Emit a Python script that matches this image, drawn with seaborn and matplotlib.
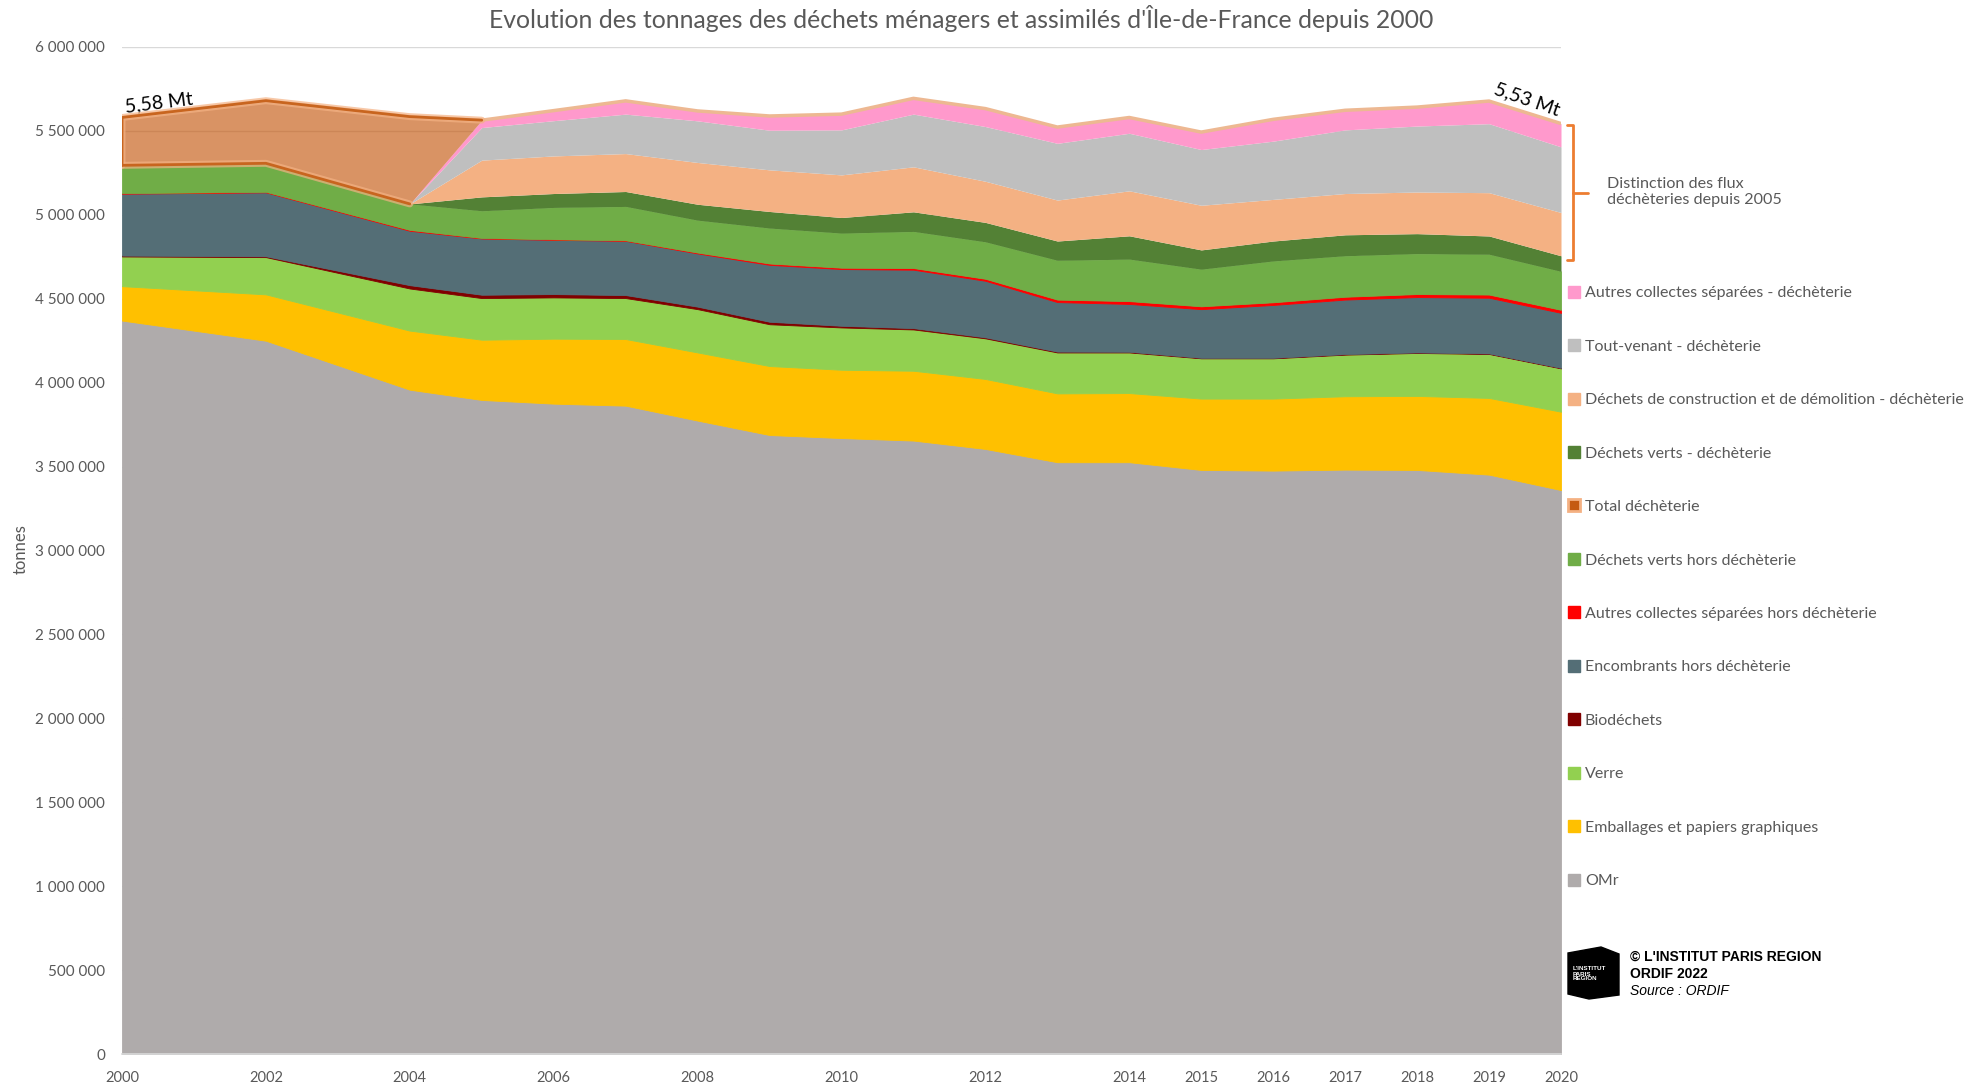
import numpy as np
import pandas as pd
import matplotlib
matplotlib.use("Agg")
import matplotlib.pyplot as plt
import seaborn as sns
from matplotlib.lines import Line2D
from matplotlib.patches import Polygon
from matplotlib.ticker import FuncFormatter

# -------------------------------
# Data (milliers de tonnes)
# -------------------------------
years = [2000, 2002, 2004, 2005, 2006, 2007, 2008, 2009, 2010, 2011, 2012,
         2013, 2014, 2015, 2016, 2017, 2018, 2019, 2020]

omr = [4370, 4250, 3958, 3897, 3875, 3863, 3774, 3688, 3670, 3655, 3605,
       3526, 3526, 3480, 3476, 3482, 3480, 3452, 3360]
emballages = [205, 276, 352, 359, 387, 397, 406, 411, 407, 416, 417,
              410, 412, 425, 429, 437, 441, 457, 467]
verre = [177, 222, 251, 248, 246, 244, 258, 249, 252, 246, 242,
         244, 242, 240, 240, 248, 256, 262, 258]
biodechets = [5, 5, 20, 20, 20, 18, 15, 15, 10, 8, 6,
              5, 4, 3, 3, 3, 3, 3, 3]
encombrants = [369, 381, 324, 335, 323, 323, 317, 339, 338, 348, 337,
               295, 285, 290, 315, 325, 330, 332, 328]
autres_hors = [3, 3, 5, 3, 3, 3, 5, 8, 8, 10, 12,
               15, 17, 17, 16, 17, 18, 19, 18]
verts_hors = [166, 170, 155, 162, 190, 202, 193, 211, 206, 218, 220,
              234, 250, 221, 246, 244, 241, 240, 229]
verts_dech = [0, 0, 0, 83, 83, 89, 95, 99, 93, 117, 116,
              115, 139, 115, 119, 125, 119, 109, 93]
dcd_dech = [0, 0, 0, 219, 224, 226, 249, 248, 254, 268, 245,
            244, 268, 266, 248, 246, 248, 258, 258]
tout_venant = [0, 0, 0, 194, 210, 235, 248, 236, 268, 314, 326,
               338, 343, 332, 347, 379, 393, 411, 391]
autres_dech = [0, 0, 0, 44, 60, 79, 59, 85, 94, 94, 107,
               97, 94, 104, 130, 117, 113, 135, 139]
total_dech = [285, 373, 520, 0, 0, 0, 0, 0, 0, 0, 0,
              0, 0, 0, 0, 0, 0, 0, 0]

# stacking order, bottom -> top
series = [
    ("OMr", omr, "#AFABAB"),
    ("Emballages et papiers graphiques", emballages, "#FFC000"),
    ("Verre", verre, "#92D050"),
    ("Biodéchets", biodechets, "#800000"),
    ("Encombrants hors déchèterie", encombrants, "#546E76"),
    ("Autres collectes séparées hors déchèterie", autres_hors, "#FF0000"),
    ("Déchets verts hors déchèterie", verts_hors, "#70AD47"),
    ("Déchets verts - déchèterie", verts_dech, "#538135"),
    ("Déchets de construction et de démolition - déchèterie", dcd_dech, "#F4B183"),
    ("Tout-venant - déchèterie", tout_venant, "#BFBFBF"),
    ("Autres collectes séparées - déchèterie", autres_dech, "#FF99CC"),
    ("Total déchèterie", total_dech, "#C55A11"),
]
legend_order = [
    "Autres collectes séparées - déchèterie",
    "Tout-venant - déchèterie",
    "Déchets de construction et de démolition - déchèterie",
    "Déchets verts - déchèterie",
    "Total déchèterie",
    "Déchets verts hors déchèterie",
    "Autres collectes séparées hors déchèterie",
    "Encombrants hors déchèterie",
    "Biodéchets",
    "Verre",
    "Emballages et papiers graphiques",
    "OMr",
]

df = pd.DataFrame({name: np.array(vals) * 1000 for name, vals, _ in series})
df["annee"] = years
colors = {name: c for name, _, c in series}
names = [s[0] for s in series]

# -------------------------------
# Plot
# -------------------------------
sns.set_style("white")
plt.rcParams["font.family"] = ["Lato", "DejaVu Sans"]
grey_txt = "#595959"

W, H = 1980, 1083
fig = plt.figure(figsize=(W / 100, H / 100), dpi=100)
ax = fig.add_axes([122 / W, 1 - 1054 / H, (1561 - 122) / W, (1054 - 47) / H])

def fx(px):
    return px / W

def fy(py):
    return 1 - py / H

polys = ax.stackplot(df["annee"], *[df[n] for n in names],
                     colors=[colors[n] for n in names], zorder=2)
no_edge = {"Déchets verts - déchèterie",
           "Déchets de construction et de démolition - déchèterie",
           "Tout-venant - déchèterie",
           "Autres collectes séparées - déchèterie", "Total déchèterie"}
for p, n in zip(polys, names):
    if n in no_edge:
        p.set_linewidth(0)
    else:
        p.set_edgecolor(colors[n])
        p.set_linewidth(0.6)
polys[-1].set_alpha(0.65)

# total outline
stack = df[names].cumsum(axis=1)
totals = stack[names[-1]]
base_dech = stack[names[-2]]
sns.lineplot(x=df["annee"], y=totals, color="#EDB892", lw=2.5, ax=ax, zorder=3)

n_early = 4
xs = list(df["annee"][:n_early])
top_x = [xs[0]] + xs
top_y = [base_dech[0]] + list(totals[:n_early])
bot_x = xs[:3]
bot_y = list(base_dech[:3])
for lw, col, a in [(5, "#F4B183", 0.7), (2, "#C8651F", 1)]:
    ax.plot(top_x, top_y, color=col, lw=lw, alpha=a, zorder=4,
            solid_joinstyle="miter")
    ax.plot(bot_x, bot_y, color=col, lw=lw, alpha=a, zorder=4)

# axes
ax.set_xlim(2000, 2020)
ax.set_ylim(0, 6_000_000)
ax.set_yticks(np.arange(0, 6_000_001, 500_000))
ax.yaxis.set_major_formatter(FuncFormatter(lambda v, _: f"{int(v):,}".replace(",", " ")))
ax.yaxis.grid(True, color="#D9D9D9", lw=1)
ax.set_axisbelow(True)
ticks = list(range(2000, 2021))
ax.set_xticks(ticks)
ax.set_xticklabels([str(t) if (t % 2 == 0 or t >= 2014) else "" for t in ticks])
for s in ["left", "top", "right"]:
    ax.spines[s].set_visible(False)
ax.spines["bottom"].set_color("#D9D9D9")
ax.spines["bottom"].set_linewidth(1.2)
ax.tick_params(axis="y", length=0, pad=12, labelsize=11, labelcolor=grey_txt)
ax.tick_params(axis="x", length=5, width=1, color="#D9D9D9", pad=7,
               labelsize=10.5, labelcolor=grey_txt, direction="out")
ax.set_xlabel("")
ax.set_ylabel("")
fig.text(fx(21), fy(549), "tonnes", rotation=90, ha="center", va="center",
         fontsize=12, color=grey_txt)

# labels on total
ax.text(2000.03, 5.59e6, "5,58 Mt", rotation=7, ha="left", va="bottom",
        fontsize=14, color="black")
ax.text(2019.53, 5.69e6, "5,53 Mt", rotation=-19, ha="center", va="center",
        fontsize=14, color="black")

fig.text(0.4853, fy(18),
         "Evolution des tonnages des déchets ménagers et assimilés d'Île-de-France depuis 2000",
         ha="center", va="center", fontsize=17.8, color=grey_txt)

# legend
handles = []
for n in legend_order:
    if n == "Total déchèterie":
        h = Line2D([], [], marker="s", ls="", markersize=8,
                   markerfacecolor="#C55A11", markeredgecolor="#F4B183",
                   markeredgewidth=2)
    else:
        h = Line2D([], [], marker="s", ls="", markersize=8,
                   markerfacecolor=colors[n], markeredgecolor=colors[n])
    handles.append(h)
fig.legend(handles, legend_order, loc="upper left",
           bbox_to_anchor=(fx(1568), fy(286)), frameon=False,
           fontsize=11.5, labelspacing=2.46, handlelength=0.7,
           handletextpad=0.35, borderpad=0, borderaxespad=0,
           labelcolor=grey_txt)

# bracket
br = "#ED7D31"
fig.add_artist(Line2D([fx(1567), fx(1573), fx(1573), fx(1567)],
                      [fy(125), fy(125), fy(260), fy(260)],
                      transform=fig.transFigure, color=br, lw=2))
fig.add_artist(Line2D([fx(1573), fx(1588)], [fy(193), fy(193)],
                      transform=fig.transFigure, color=br, lw=2))
fig.text(fx(1607), fy(192), "Distinction des flux\ndéchèteries depuis 2005",
         ha="left", va="center", fontsize=11.6, color=grey_txt, linespacing=1.1)

# logo + credits
logo = [(1568, 953), (1601, 947), (1619, 954), (1619, 995), (1589, 999), (1568, 994)]
fig.add_artist(Polygon([(fx(x), fy(y)) for x, y in logo], closed=True,
                       transform=fig.transFigure, facecolor="black", edgecolor="black"))
fig.text(fx(1573), fy(974), "L'INSTITUT\nPARIS\nREGION", ha="left", va="center",
         fontsize=4.5, color="white", fontweight="bold", linespacing=1.0,
         family=["Liberation Sans", "DejaVu Sans"])
cred = ["Liberation Sans", "DejaVu Sans"]
fig.text(fx(1630), fy(957), "© L'INSTITUT PARIS REGION", ha="left", va="center",
         fontsize=10, fontweight="bold", color="black", family=cred)
fig.text(fx(1630), fy(974), "ORDIF 2022", ha="left", va="center",
         fontsize=10, fontweight="bold", color="black", family=cred)
fig.text(fx(1630), fy(991), "Source : ORDIF", ha="left", va="center",
         fontsize=10, style="italic", color="black", family=cred)

fig.savefig("out.png", dpi=100)
